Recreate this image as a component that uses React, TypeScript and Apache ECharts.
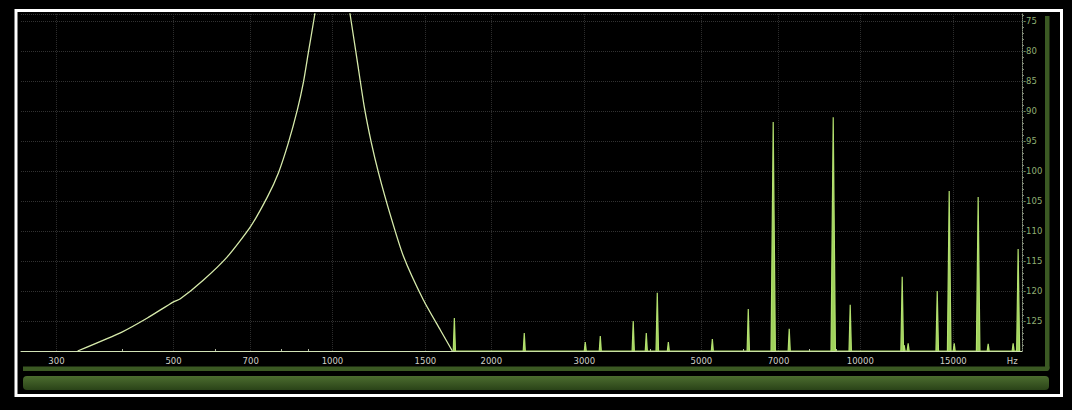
import React, { useEffect, useRef } from "react";
import * as echarts from "echarts";

// Frequency (Hz) axis range and level (dB) axis range
const FREQ_MIN = 257;
const FREQ_MAX = 20250;
const DB_MIN = -130;
const DB_MAX = -73.8;

// Main tone response curve (Hz, dB)
const curveFreq = [329, 400, 446, 500, 515, 569, 632, 699, 753, 790, 825, 858, 881, 900, 924, 1000, 1082, 1115, 1149, 1185, 1222, 1287, 1363, 1487, 1601, 1687];
const curveDb = [-130, -126.8, -124.5, -121.8, -121.3, -118.2, -114.3, -109.3, -104.3, -100.3, -95.3, -89.8, -85.2, -80.3, -74.3, -55, -74.3, -81.8, -89.3, -95.3, -100.2, -107.3, -114.2, -121.5, -126.5, -130];

// Harmonic / spurious spikes (Hz, dB peak)
const spikeFreq = [1702, 2309, 3013, 3217, 3714, 3932, 4125, 4329, 5245, 6135, 6840, 7335, 8887, 9571, 12007, 12109, 12324, 13990, 14740, 15066, 16725, 17473, 19483, 19911];
const spikeDb = [-124.5, -127, -128.5, -127.5, -125, -127, -120.3, -128.5, -128, -123, -91.8, -126.3, -91, -122.3, -117.6, -129, -128.7, -120, -103.3, -128.7, -104.3, -128.8, -128.7, -113];

// Axis tick labels
const xTickLabels = [300, 500, 700, 1000, 1500, 2000, 3000, 5000, 7000, 10000, 15000];
const xMinorTicks = [400, 600, 800, 900, 4000, 6000, 8000, 9000];
const hzLabelFreq = 19400;
const hzLabel = "Hz";

const lg = (v: number) => Math.log10(v);

export default function App() {
  const ref = useRef<HTMLDivElement>(null);

  useEffect(() => {
    if (!ref.current) return;
    const chart = echarts.init(ref.current, null, { renderer: "svg" });

    const curveData = curveFreq.map((f, i) => [lg(f), curveDb[i]]);
    const spikeData: (number[])[] = [];
    spikeFreq.forEach((f, i) => {
      const h = spikeDb[i] - DB_MIN;
      const w = 0.0018 + h * 0.00006;
      const c = lg(f);
      spikeData.push([c - w, DB_MIN]);
      spikeData.push([c, spikeDb[i]]);
      spikeData.push([c + w, DB_MIN]);
    });

    const font = "DejaVu Sans";

    chart.setOption({
      animation: false,
      backgroundColor: "#000",
      grid: { left: 21, right: 50, top: 14, bottom: 59, containLabel: false },
      graphic: [
        {
          type: "rect",
          silent: true,
          z: 0,
          shape: { x: 16, y: 10.5, width: 1045.5, height: 385 },
          style: { fill: "none", stroke: "#ffffff", lineWidth: 3 },
        },
        {
          type: "rect",
          silent: true,
          z: 0,
          shape: { x: 1045, y: 16, width: 4.5, height: 355, r: [0, 0, 4, 0] },
          style: { fill: "#3b5923" },
        },
        {
          type: "rect",
          silent: true,
          z: 0,
          shape: { x: 23, y: 366.5, width: 1026.5, height: 4.5, r: [0, 0, 3, 0] },
          style: { fill: "#3b5923" },
        },
        {
          type: "rect",
          silent: true,
          z: 0,
          shape: { x: 23, y: 376, width: 1026, height: 14, r: 4 },
          style: {
            fill: new echarts.graphic.LinearGradient(0, 0, 0, 1, [
              { offset: 0, color: "#4c6d2f" },
              { offset: 1, color: "#2a4318" },
            ]),
          },
        },
      ],
      xAxis: [
        {
          type: "value",
          min: lg(FREQ_MIN),
          max: lg(FREQ_MAX),
          position: "bottom",
          axisLine: { show: true, onZero: false, lineStyle: { color: "#d2e2b6", width: 1 } },
          axisTick: { show: false, customValues: xTickLabels.map(lg) },
          axisLabel: {
            customValues: xTickLabels.map(lg),
            formatter: (v: number) => String(Math.round(Math.pow(10, v))),
            color: "#cfcfc6",
            fontFamily: font,
            fontSize: 8.5,
            margin: 5,
          },
          splitLine: { show: true, lineStyle: { color: "#2c2c2c", type: "dotted", width: 1 } },
        },
        {
          type: "value",
          min: lg(FREQ_MIN),
          max: lg(FREQ_MAX),
          position: "bottom",
          offset: 0,
          axisLine: { show: false },
          axisTick: {
            show: true,
            inside: true,
            length: 2,
            customValues: xMinorTicks.map(lg),
            lineStyle: { color: "#b0b8a0" },
          },
          axisLabel: {
            customValues: [lg(hzLabelFreq)],
            formatter: () => hzLabel,
            color: "#cfcfc6",
            fontFamily: font,
            fontSize: 8.5,
            margin: 5,
          },
          splitLine: { show: false },
        },
      ],
      yAxis: {
        type: "value",
        position: "right",
        min: DB_MIN,
        max: DB_MAX,
        interval: 5,
        axisLine: { show: true, lineStyle: { color: "#8a9580", type: "dotted", width: 1 } },
        axisTick: { show: false },
        minorTick: { show: true, splitNumber: 5, length: 2, lineStyle: { color: "#7c8572" } },
        axisLabel: {
          formatter: (v: number) => (Math.abs(v % 5) < 1e-6 && v > DB_MIN + 0.5 ? String(v) : ""),
          color: "#8fae73",
          fontFamily: font,
          fontSize: 8.5,
          margin: 1,
        },
        splitLine: { show: true, lineStyle: { color: "#323232", type: "dotted", width: 1 } },
      },
      series: [
        {
          type: "line",
          xAxisIndex: 0,
          data: spikeData,
          showSymbol: false,
          symbol: "none",
          clip: true,
          lineStyle: { color: "#b3e06e", width: 1.2 },
          areaStyle: { color: "#9fd25a", opacity: 1, origin: "start" },
          z: 3,
        },
        {
          type: "line",
          xAxisIndex: 0,
          data: curveData,
          showSymbol: false,
          symbol: "none",
          smooth: 0.2,
          clip: true,
          lineStyle: { color: "#d6eaaa", width: 1.3 },
          z: 4,
        },
      ],
    });

    return () => chart.dispose();
  }, []);

  return (
    <div
      ref={ref}
      style={{ position: "fixed", left: 0, top: 0, width: 1072, height: 410, background: "#000" }}
    />
  );
}
